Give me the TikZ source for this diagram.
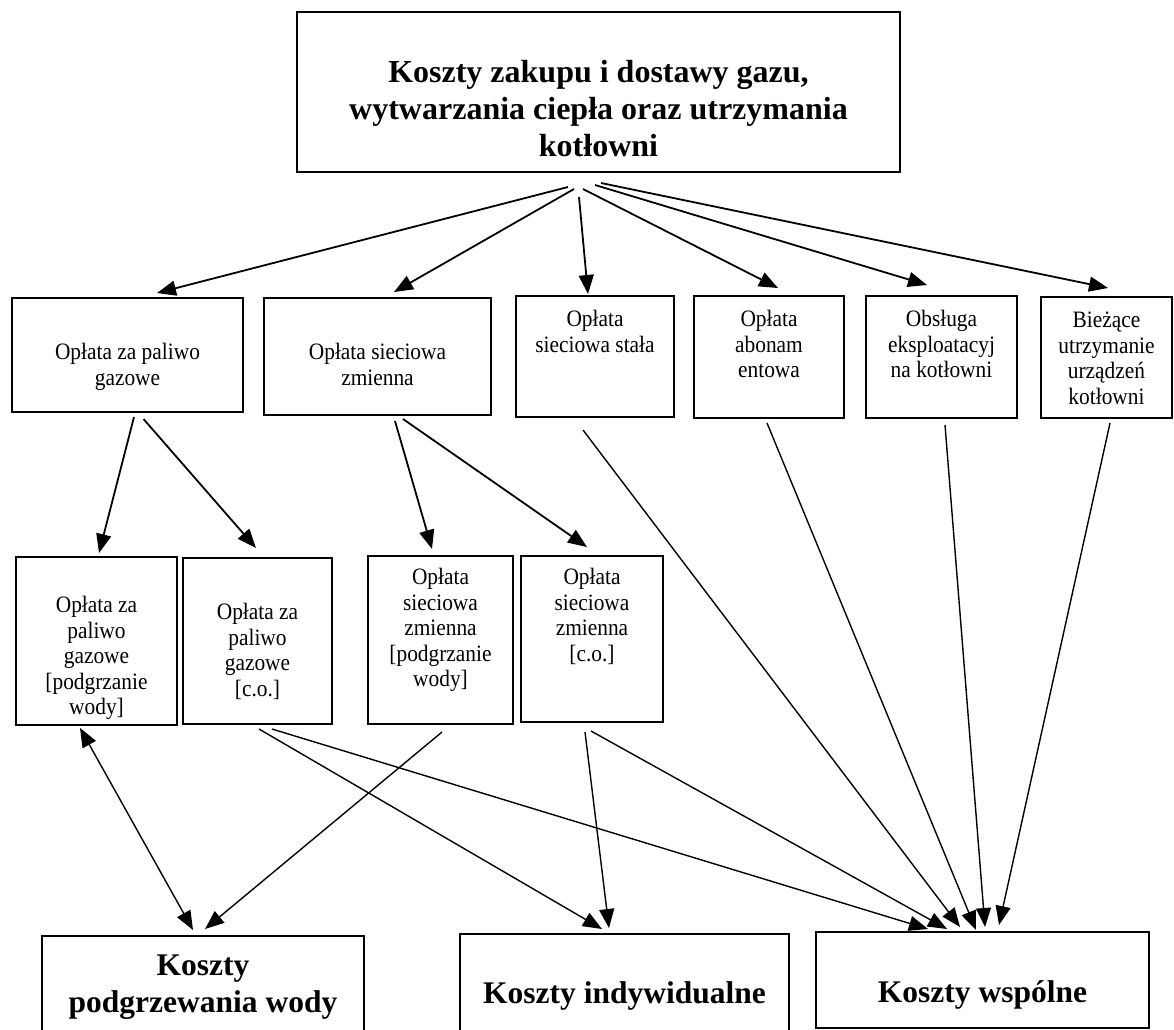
\documentclass[tikz,border=0pt]{standalone}
\usepackage{fontspec}
\setmainfont{Liberation Serif}
\newfontfamily\bodyfont{Liberation Serif}[FakeStretch=0.91]
\usetikzlibrary{arrows.meta}
\newcommand\bxtext[4]{\parbox[c][#2pt][t]{#1pt}{\centering\vspace*{#3pt}\strut #4}}
\tikzset{
  box/.style={draw, line width=2pt, inner sep=0pt, outer sep=0pt, anchor=north west,
    font=\bodyfont\fontsize{23.5}{25.5}\selectfont},
  bigbox/.style={box, font=\fontsize{31.5}{37}\selectfont\bfseries},
  titlebox/.style={box, font=\fontsize{32}{37}\selectfont\bfseries},
  tip/.tip={Triangle[length=19pt,width=15pt]},
  arr/.style={line width=1.8pt, -tip},
  thinarr/.style={line width=1.4pt, -tip},
  dblarr/.style={line width=1.4pt, tip-tip},
}
\begin{document}
\begin{tikzpicture}[x=1pt,y=-1pt]
\useasboundingbox (0,0) rectangle (1174,1029);
% top
\node[titlebox] (title) at (297,12) {\bxtext{603}{160}{45}{Koszty zakupu i dostawy gazu,\\wytwarzania ciepła oraz utrzymania\\kotłowni}};
% second row
\node[box] (n1) at (12,298) {\bxtext{231}{114}{44}{Opłata za paliwo\\gazowe}};
\node[box] (n2) at (264,298) {\bxtext{227}{117}{44}{Opłata sieciowa\\zmienna}};
\node[box] (n3) at (516,296) {\bxtext{158}{121}{13}{Opłata\\sieciowa stała}};
\node[box] (n4) at (694,296) {\bxtext{150}{122}{13}{Opłata\\abonam\\entowa}};
\node[box] (n5) at (866,296) {\bxtext{151}{122}{13}{Obsługa\\eksploatacyj\\na kotłowni}};
\node[box] (n6) at (1041,297) {\bxtext{131}{121}{13}{Bieżące\\utrzymanie\\urządzeń\\kotłowni}};
% third row
\node[box] (m1) at (16,557) {\bxtext{161}{168}{38}{Opłata za\\paliwo\\gazowe\\{[}podgrzanie\\wody{]}}};
\node[box] (m2) at (183,558) {\bxtext{149}{166}{44}{Opłata za\\paliwo\\gazowe\\{[}c.o.{]}}};
\node[box] (m3) at (368,556) {\bxtext{145}{168}{11}{Opłata\\sieciowa\\zmienna\\{[}podgrzanie\\wody{]}}};
\node[box] (m4) at (521,556) {\bxtext{142}{166}{11}{Opłata\\sieciowa\\zmienna\\{[}c.o.{]}}};
% bottom
\node[bigbox] (b1) at (42,936) {\bxtext{322}{95}{14}{Koszty\\podgrzewania wody}};
\node[bigbox] (b2) at (460,934) {\bxtext{329}{97}{44}{Koszty indywidualne}};
\node[bigbox] (b3) at (816,932) {\bxtext{333}{96}{45}{Koszty wspólne}};
% connector end points
\coordinate (ts1) at (568,187); \coordinate (te1) at (157,293);
\coordinate (ts2) at (574,189); \coordinate (te2) at (394,292);
\coordinate (ts3) at (579,197); \coordinate (te3) at (588,294);
\coordinate (ts4) at (583,189); \coordinate (te4) at (778,288);
\coordinate (ts5) at (595,185); \coordinate (te5) at (927,285);
\coordinate (ts6) at (601,183); \coordinate (te6) at (1108,288);
\coordinate (n1a) at (134,417); \coordinate (m1t) at (99,553);
\coordinate (n1b) at (143.5,419); \coordinate (m2t) at (256,548);
\coordinate (n2a) at (395,421); \coordinate (m3t) at (432,549);
\coordinate (n2b) at (403,419); \coordinate (m4t) at (587,547);
\coordinate (m1b) at (80,728); \coordinate (b1a) at (193,930);
\coordinate (m2a) at (259,729); \coordinate (b2a) at (602,929);
\coordinate (m2b) at (272,729); \coordinate (b3a) at (928,929);
\coordinate (m3b) at (442,732); \coordinate (b1b) at (205,929);
\coordinate (m4a) at (585,732); \coordinate (b2b) at (609,928);
\coordinate (m4b) at (591,731); \coordinate (b3b) at (947,929);
\coordinate (n3b) at (583,430); \coordinate (b3c) at (960,927);
\coordinate (n4b) at (767,423); \coordinate (b3d) at (976,930);
\coordinate (n5b) at (945,425); \coordinate (b3e) at (985,927);
\coordinate (n6b) at (1110,423); \coordinate (b3f) at (999,925);
% top arrows
\draw[arr] (ts1) -- (te1);
\draw[arr] (ts2) -- (te2);
\draw[arr] (ts3) -- (te3);
\draw[arr] (ts4) -- (te4);
\draw[arr] (ts5) -- (te5);
\draw[arr] (ts6) -- (te6);
% second to third row
\draw[arr] (n1a) -- (m1t);
\draw[arr] (n1b) -- (m2t);
\draw[arr] (n2a) -- (m3t);
\draw[arr] (n2b) -- (m4t);
% to bottom
\draw[dblarr] (m1b) -- (b1a);
\draw[thinarr] (m2a) -- (b2a);
\draw[thinarr] (m2b) -- (b3a);
\draw[thinarr] (m3b) -- (b1b);
\draw[thinarr] (m4a) -- (b2b);
\draw[thinarr] (m4b) -- (b3b);
\draw[thinarr] (n3b) -- (b3c);
\draw[thinarr] (n4b) -- (b3d);
\draw[thinarr] (n5b) -- (b3e);
\draw[thinarr] (n6b) -- (b3f);
\end{tikzpicture}
\end{document}
